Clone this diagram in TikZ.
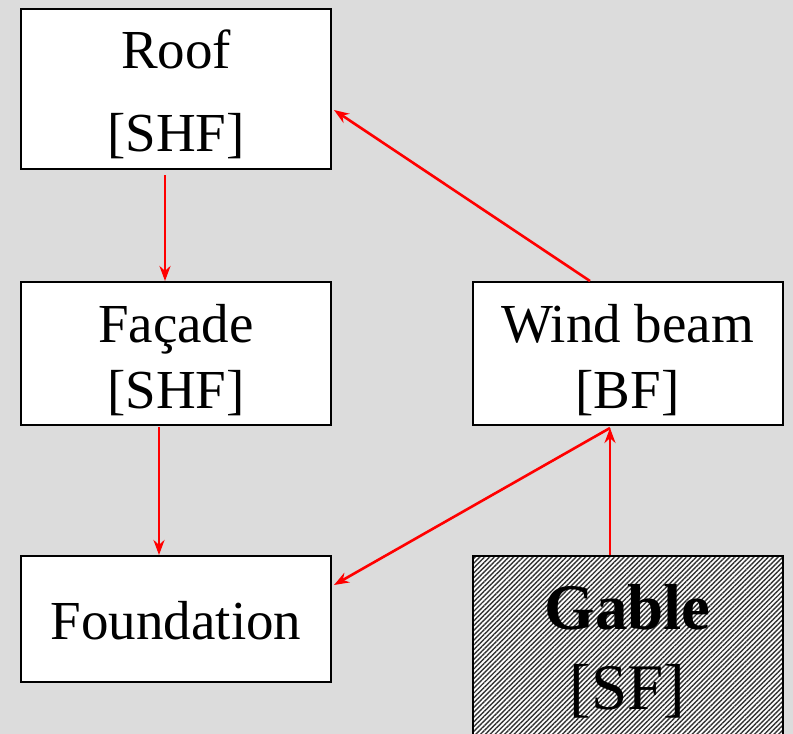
\documentclass[tikz,border=0pt]{standalone}
\usepackage{fontspec}
\setmainfont{Liberation Serif}
\usepackage{tikz}
\usetikzlibrary{arrows.meta}
\usetikzlibrary{patterns.meta}
\definecolor{bggray}{RGB}{220,220,220}

\begin{document}
\begin{tikzpicture}[x=1pt,y=-1pt,
	box/.style={draw=black,line width=2pt,fill=white,minimum width=310pt,
		align=center,inner sep=0pt,font=\fontsize{55}{66}\selectfont},
	link/.style={red,line width=2.6pt,-{Stealth[length=15pt,width=11pt]}}]
		\fill[bggray] (0,0) rectangle (793,734);
		\clip (0,0) rectangle (793,734);

		\node[box,minimum height=160pt,text height=133pt](Roof) at (176,89){Roof\\[17pt][SHF]};

		\node[box,minimum height=143pt,text height=118pt](Facade) at (176,353.5){Façade\\{}[SHF]};
		\node[box,minimum height=143pt,text height=118pt](Wind) at (627.5,353.5){Wind beam\\{}[BF]};

		\node[box,minimum height=126pt,text height=42pt](Found) at (176,619){Foundation};
		\node[box,minimum height=180pt,text height=135pt,
			font=\fontsize{65}{80}\selectfont,
			preaction={fill=white},
			pattern={Lines[angle=45,distance=3.4pt,line width=1.4pt]},
			pattern color=black!80](Gable) at (627.5,646){\textbf{Gable}\\{}[SF]};

		\draw[link] ([xshift=-11pt,yshift=-5pt]Roof.south) -- ([xshift=-11pt]Facade.north);
		\draw[link] ([xshift=-17pt,yshift=-1pt]Facade.south) -- ([xshift=-17pt]Found.north);
		\draw[link] ([xshift=-37.5pt]Wind.north) -- ([xshift=2pt,yshift=-21pt]Roof.east);
		\draw[link] ([xshift=-17.5pt,yshift=-2pt]Wind.south) -- ([xshift=2pt,yshift=34pt]Found.east);
		\draw[link] ([xshift=-17.5pt]Gable.north) -- ([xshift=-17.5pt,yshift=-2pt]Wind.south);
	\end{tikzpicture}
\end{document}
